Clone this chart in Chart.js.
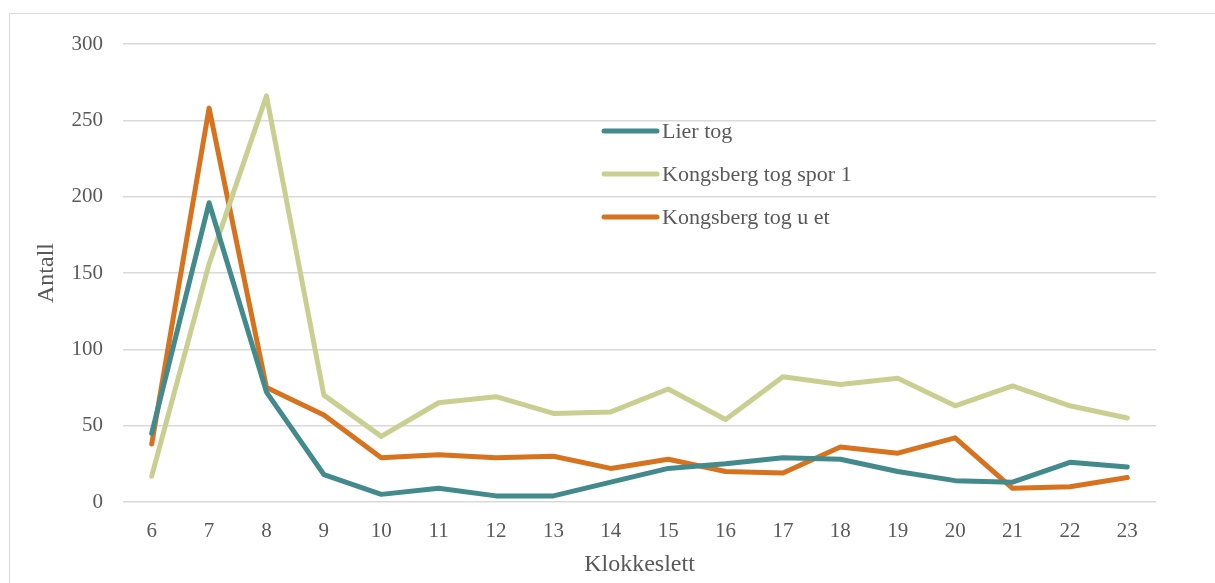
<!DOCTYPE html>
<html>
<head>
<meta charset="utf-8">
<script src="https://cdn.jsdelivr.net/npm/chart.js@4"></script>
<style>
  html, body { margin: 0; padding: 0; background: #fff; overflow: hidden; }
  #frame { position: absolute; left: 9px; top: 13px; width: 1220px; height: 600px; border: 1.5px solid #d9d9d9; box-sizing: border-box; }
  #myChart { position: absolute; left: 0; top: 0; }
</style>
</head>
<body>
<div id="frame"></div>
<canvas id="myChart" width="1215" height="583"></canvas>
<script>
var hours = ['6', '7', '8', '9', '10', '11', '12', '13', '14', '15', '16', '17', '18', '19', '20', '21', '22', '23'];
var lierTog = [45, 196, 72, 18, 5, 9, 4, 4, 13, 22, 25, 29, 28, 20, 14, 13, 26, 23];
var kongsbergSpor1 = [17, 156, 266, 70, 43, 65, 69, 58, 59, 74, 54, 82, 77, 81, 63, 76, 63, 55];
var kongsbergUEt = [38, 258, 75, 57, 29, 31, 29, 30, 22, 28, 20, 19, 36, 32, 42, 9, 10, 16];

var fontFamily = "'Liberation Serif', 'DejaVu Serif', serif";
var textColor = '#595959';

// legend drawn inside the plot, like the Excel original
var legendPlugin = {
    id: 'insideLegend',
    afterDatasetsDraw: function (chart) {
        var ctx = chart.ctx;
        var ys = [131, 174, 217];
        ctx.save();
        ctx.font = '22px ' + fontFamily;
        ctx.textBaseline = 'middle';
        ctx.textAlign = 'left';
        chart.data.datasets.forEach(function (dataset, i) {
            ctx.strokeStyle = dataset.borderColor;
            ctx.lineWidth = 5;
            ctx.lineCap = 'round';
            ctx.beginPath();
            ctx.moveTo(604, ys[i]);
            ctx.lineTo(657, ys[i]);
            ctx.stroke();
            ctx.fillStyle = textColor;
            ctx.fillText(dataset.label, 662, ys[i] + 1);
        });
        ctx.restore();
    }
};

var chart = new Chart(document.getElementById('myChart').getContext('2d'), {
    type: 'line',
    data: {
        labels: hours,
        datasets: [
            { label: 'Lier tog', data: lierTog, borderColor: '#428a8c' },
            { label: 'Kongsberg tog spor 1', data: kongsbergSpor1, borderColor: '#c9cf91' },
            { label: 'Kongsberg tog u et', data: kongsbergUEt, borderColor: '#d7731f' }
        ].map(function (d) {
            d.borderWidth = 5;
            d.pointRadius = 0;
            d.tension = 0;
            d.borderCapStyle = 'round';
            d.borderJoinStyle = 'round';
            d.fill = false;
            return d;
        })
    },
    options: {
        responsive: false,
        animation: false,
        layout: { padding: { left: 28, top: 44, right: 59, bottom: 0 } },
        plugins: {
            legend: { display: false },
            tooltip: { enabled: false }
        },
        scales: {
            x: {
                offset: true,
                grid: { display: false, drawTicks: false },
                border: { display: false },
                ticks: { color: textColor, font: { family: fontFamily, size: 21 }, padding: 17, maxRotation: 0 },
                title: { display: true, text: 'Klokkeslett', color: textColor, font: { family: fontFamily, size: 24 } },
                afterFit: function (scale) { scale.height = 81; }
            },
            y: {
                min: 0,
                max: 300,
                ticks: { stepSize: 50, color: textColor, font: { family: fontFamily, size: 21 }, padding: 20 },
                grid: { color: '#d9d9d9', lineWidth: 1.5, drawTicks: false },
                border: { display: false },
                title: { display: true, text: 'Antall', color: textColor, font: { family: fontFamily, size: 24 } },
                afterFit: function (scale) { scale.width = 95; }
            }
        }
    },
    plugins: [legendPlugin]
});
</script>
</body>
</html>
